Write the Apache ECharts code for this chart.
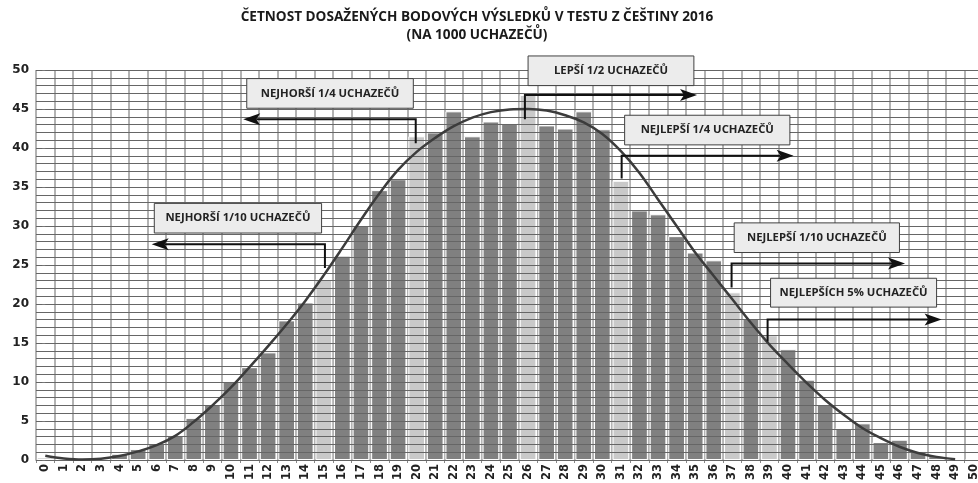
<!DOCTYPE html>
<html>
<head>
<meta charset="utf-8">
<script src="https://cdn.jsdelivr.net/npm/echarts@6/dist/echarts.min.js"></script>
<style>
  html, body { margin: 0; padding: 0; background: #fff; }
  #chart { width: 978px; height: 483px; }
</style>
</head>
<body>
<div id="chart"></div>
<script>
// body points 0..50
const points = ['0','1','2','3','4','5','6','7','8','9','10','11','12','13','14','15','16','17','18','19','20',
  '21','22','23','24','25','26','27','28','29','30','31','32','33','34','35','36','37','38','39','40',
  '41','42','43','44','45','46','47','48','49','50'];

// number of candidates (per 1000) with each score
const counts = [0.3, 0, 0, 0, 0.8, 1.4, 2.1, 3.2, 5.4, 7.1, 10.0, 11.9, 13.8, 17.9, 20.2, 23.2, 26.2, 30.0,
  34.6, 36.0, 41.5, 42.0, 44.7, 41.5, 43.4, 43.2, 46.8, 42.9, 42.5, 44.7, 42.4, 35.8, 32.0, 31.5, 28.7,
  26.6, 25.6, 21.5, 18.1, 16.0, 14.2, 10.3, 7.1, 4.1, 4.7, 2.3, 2.6, 1.1, 0.5, 0.1, 0];

// fitted curve
const fitted = [0.55, 0.2, 0.05, 0.15, 0.5, 1.1, 1.9, 3.1, 4.9, 7.0, 9.3, 11.9, 14.6, 17.4, 20.4, 23.7,
  27.2, 30.8, 34.2, 37.2, 39.5, 41.3, 42.8, 43.9, 44.6, 44.95, 45.0, 44.8, 44.2, 43.3, 41.8, 39.6, 36.8,
  33.4, 30.0, 26.6, 23.6, 20.6, 17.6, 14.8, 12.3, 9.9, 7.7, 5.8, 4.1, 2.8, 1.7, 0.9, 0.4, 0.1, null];

// scores where a quantile boundary sits (lighter bars)
const boundaryScores = ['15', '20', '26', '31', '37', '39'];

const yTicks = [0, 5, 10, 15, 20, 25, 30, 35, 40, 45, 50];

// callouts: box corners and arrow path, in (score, count) units
const callouts = [
  { text: 'NEJHORŠÍ 1/4 UCHAZEČŮ', box: [10.85, 48.9, 19.82, 45.1], path: [[19.95, 40.6], [19.95, 43.7], [10.66, 43.7]] },
  { text: 'LEPŠÍ 1/2 UCHAZEČŮ', box: [26.0, 51.8, 34.93, 48.0], path: [[25.83, 43.7], [25.83, 46.8], [35.1, 46.8]] },
  { text: 'NEJLEPŠÍ 1/4 UCHAZEČŮ', box: [31.2, 44.2, 40.1, 40.4], path: [[31.04, 36.1], [31.04, 39.0], [40.3, 39.0]] },
  { text: 'NEJHORŠÍ 1/10 UCHAZEČŮ', box: [5.87, 32.9, 14.88, 29.1], path: [[15.06, 24.6], [15.06, 27.65], [5.73, 27.65]] },
  { text: 'NEJLEPŠÍ 1/10 UCHAZEČŮ', box: [37.1, 30.4, 46.0, 26.6], path: [[36.96, 22.1], [36.96, 25.2], [46.3, 25.2]] },
  { text: 'NEJLEPŠÍCH 5% UCHAZEČŮ', box: [39.06, 23.3, 48.0, 19.6], path: [[38.9, 15.2], [38.9, 18.0], [48.27, 18.0]] }
];

const chart = echarts.init(document.getElementById('chart'));

chart.setOption({
  animation: false,
  backgroundColor: '#fff',
  grid: { left: 36, right: -5, top: 70, bottom: 23, containLabel: false, outerBoundsMode: 'none' },
  xAxis: [{
    type: 'category',
    data: points,
    boundaryGap: true,
    axisLine: { lineStyle: { color: '#777' } },
    axisTick: { show: true, length: 3, interval: 0, lineStyle: { color: '#888' } },
    splitLine: { show: true, interval: 0, lineStyle: { color: '#9a9a9a', width: 1.5 } },
    axisLabel: {
      interval: 0, rotate: 90, margin: 4,
      fontFamily: 'DejaVu Sans', fontWeight: 'bold', fontSize: 11.5, color: '#222'
    }
  }, {
    // helper axis for placing the callouts
    type: 'value', min: -0.5, max: 50.5, show: false
  }],
  yAxis: {
    type: 'value',
    min: yTicks[0], max: yTicks[yTicks.length - 1], interval: 5,
    z: 3,
    axisLine: { show: false },
    axisTick: { show: true, length: 3, lineStyle: { color: '#777' } },
    axisLabel: { fontFamily: 'DejaVu Sans', fontWeight: 'bold', fontSize: 12, color: '#222', margin: 7 },
    splitLine: { show: true, lineStyle: { color: '#666', width: 1.2 } },
    minorTick: { show: false, splitNumber: 5 },
    minorSplitLine: { show: true, lineStyle: { color: '#666', width: 1.2 } }
  },
  series: [{
    type: 'bar',
    data: counts,
    barCategoryGap: '10%',
    itemStyle: {
      color: p => boundaryScores.includes(p.name) ? '#c9c9c9' : '#808080',
      borderColor: '#fff',
      borderWidth: 1
    }
  }, {
    type: 'line',
    data: fitted,
    smooth: 0.4,
    symbol: 'none',
    z: 5,
    lineStyle: { color: '#3c3c3c', width: 2.5 }
  }]
});

function px(x, y) {
  return [
    chart.convertToPixel({ xAxisIndex: 1 }, x),
    chart.convertToPixel({ yAxisIndex: 0 }, y)
  ];
}

const graphics = [
  {
    type: 'text', x: 477, y: 17, z: 100,
    style: {
      text: 'ČETNOST DOSAŽENÝCH BODOVÝCH VÝSLEDKŮ V TESTU Z ČEŠTINY 2016',
      fontFamily: 'Open Sans', fontWeight: 'bold', fontSize: 13.6, fill: '#1a1a1a',
      align: 'center', verticalAlign: 'middle'
    }
  },
  {
    type: 'text', x: 477, y: 35, z: 100,
    style: {
      text: '(NA 1000 UCHAZEČŮ)',
      fontFamily: 'Open Sans', fontWeight: 'bold', fontSize: 13.6, fill: '#1a1a1a',
      align: 'center', verticalAlign: 'middle'
    }
  }
];

callouts.forEach(c => {
  const a = px(c.box[0], c.box[1]);
  const b = px(c.box[2], c.box[3]);
  graphics.push({
    type: 'rect', z: 100,
    shape: { x: a[0], y: a[1], width: b[0] - a[0], height: b[1] - a[1] },
    style: { fill: '#ececec', stroke: '#404040', lineWidth: 1 }
  });
  graphics.push({
    type: 'text', z: 101, x: (a[0] + b[0]) / 2, y: (a[1] + b[1]) / 2,
    style: {
      text: c.text, fontFamily: 'Open Sans', fontWeight: 'bold', fontSize: 11.3,
      fill: '#222', align: 'center', verticalAlign: 'middle'
    }
  });

  const pts = c.path.map(p => px(p[0], p[1]));
  const tip = pts[pts.length - 1];
  const prev = pts[pts.length - 2];
  const dir = Math.sign(tip[0] - prev[0]);
  const len = 17, half = 6, notch = 4;
  const lineEnd = [tip[0] - dir * (len - notch), tip[1]];
  graphics.push({
    type: 'polyline', z: 100,
    shape: { points: pts.slice(0, -1).concat([lineEnd]) },
    style: { stroke: '#111', lineWidth: 2, fill: null }
  });
  graphics.push({
    type: 'polygon', z: 100,
    shape: {
      points: [
        tip,
        [tip[0] - dir * len, tip[1] - half],
        [tip[0] - dir * (len - notch), tip[1]],
        [tip[0] - dir * len, tip[1] + half]
      ]
    },
    style: { fill: '#111' }
  });
});

chart.setOption({ graphic: graphics });
</script>
</body>
</html>
